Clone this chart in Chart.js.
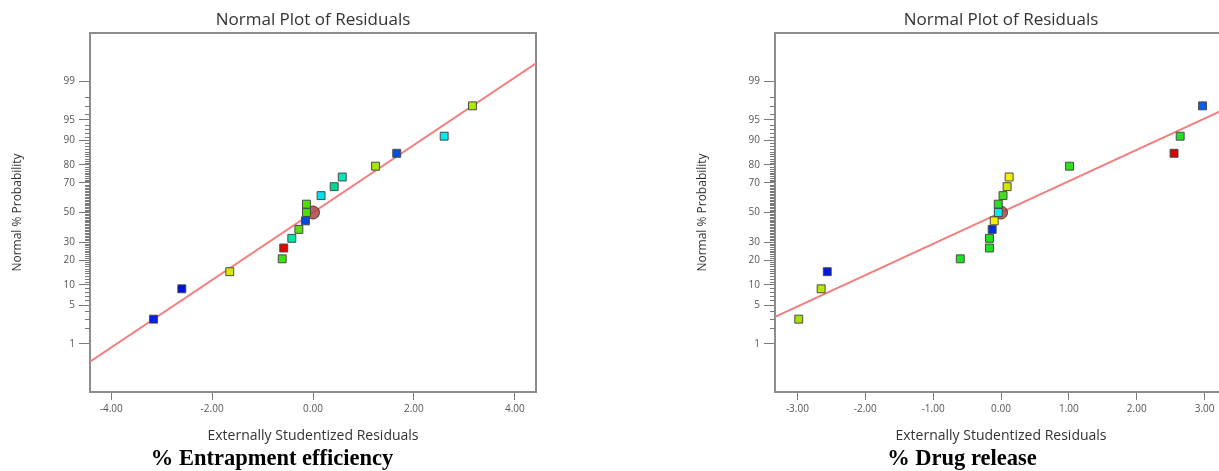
<!DOCTYPE html>
<html>
<head>
<meta charset="utf-8">
<title>Normal Plot of Residuals</title>
<script src="https://cdn.jsdelivr.net/npm/chart.js@4.4.1/dist/chart.umd.min.js"></script>
<style>
  html, body { margin: 0; padding: 0; background: #fff; overflow: hidden; }
  body { width: 1219px; height: 471px; position: relative; }
  .panel { position: absolute; top: 0; }
  .caption {
    position: absolute; top: 445px;
    font: bold 22.5px "Liberation Serif", "Times New Roman", serif;
    color: #000; transform: translateX(-50%); white-space: nowrap;
  }
</style>
</head>
<body>
<canvas id="entrap-chart" class="panel" width="560" height="450" style="left:0"></canvas>
<canvas id="release-chart" class="panel" width="566" height="450" style="left:685px"></canvas>
<div class="caption" style="left:272px">% Entrapment efficiency</div>
<div class="caption" style="left:962px">% Drug release</div>
<script>
// normal % probability of each ranked run (17 runs, same for both plots)
const normalProb = [2.94, 8.82, 14.71, 20.59, 26.47, 32.35, 38.24, 44.12, 50, 55.88, 61.76, 67.65, 73.53, 79.41, 85.29, 91.18, 97.06];

// % Entrapment efficiency
const entrapResiduals = [-3.16, -2.60, -1.65, -0.61, -0.58, -0.42, -0.28, -0.15, -0.13, -0.13, 0.16, 0.42, 0.58, 1.24, 1.66, 2.60, 3.16];
const entrapColors = ['#0020e8', '#0010e0', '#d4ea00', '#40e010', '#e80000', '#00e8a8', '#5ae000', '#0048e8', '#48e000',
                      '#50e000', '#00e0f0', '#00d890', '#00e8b8', '#a8e800', '#0050e8', '#00e8f0', '#b0e800'];
const entrapFitX = [-4.42, 4.42];
const entrapFitP = [0.41, 99.59];
const entrapXTicks = [-4, -2, 0, 2, 4];

// % Drug release
const releaseResiduals = [-2.98, -2.65, -2.56, -0.60, -0.17, -0.17, -0.13, -0.10, -0.04, -0.04, 0.03, 0.09, 0.12, 1.01, 2.55, 2.64, 2.97];
const releaseColors = ['#a8e000', '#b8e800', '#0018e0', '#20e020', '#20e020', '#20e020', '#0030e0', '#f0f000', '#00f0f0',
                       '#20e020', '#40e020', '#d0e800', '#f0f000', '#30e020', '#e00000', '#20e020', '#0060f0'];
const releaseFitX = [-3.33, 3.33];
const releaseFitP = [3.21, 96.79];
const releaseXTicks = [-3, -2, -1, 0, 1, 2, 3];

// probability axis
const probTicks = [1, 5, 10, 20, 30, 50, 70, 80, 90, 95, 99];
const probMin = 0.0736;
const probMax = 99.9264;

const minorProbTicks = [];
for (let p = 2; p < 99; p++) {
    if (!probTicks.includes(p)) minorProbTicks.push(p);
}

const FONT = '"Open Sans", "Noto Sans", sans-serif';

// inverse of the standard normal CDF (Acklam)
function probit(p) {
    const a = [-39.69683028665376, 220.9460984245205, -275.9285104469687, 138.357751867269, -30.66479806614716, 2.506628277459239];
    const b = [-54.47609879822406, 161.5858368580409, -155.6989798598866, 66.80131188771972, -13.28068155288572];
    const c = [-0.007784894002430293, -0.3223964580411365, -2.400758277161838, -2.549732539343734, 4.374664141464968, 2.938163982698783];
    const d = [0.007784695709041462, 0.3224671290700398, 2.445134137142996, 3.754408661907416];
    const lo = 0.02425;
    let q, r;
    if (p < lo) {
        q = Math.sqrt(-2 * Math.log(p));
        return (((((c[0] * q + c[1]) * q + c[2]) * q + c[3]) * q + c[4]) * q + c[5]) /
               ((((d[0] * q + d[1]) * q + d[2]) * q + d[3]) * q + 1);
    }
    if (p > 1 - lo) {
        q = Math.sqrt(-2 * Math.log(1 - p));
        return -(((((c[0] * q + c[1]) * q + c[2]) * q + c[3]) * q + c[4]) * q + c[5]) /
                ((((d[0] * q + d[1]) * q + d[2]) * q + d[3]) * q + 1);
    }
    q = p - 0.5;
    r = q * q;
    return (((((a[0] * r + a[1]) * r + a[2]) * r + a[3]) * r + a[4]) * r + a[5]) * q /
           (((((b[0] * r + b[1]) * r + b[2]) * r + b[3]) * r + b[4]) * r + 1);
}

function normCdf(z) {
    const t = 1 / (1 + 0.3275911 * Math.abs(z) / Math.SQRT2);
    const y = 1 - (((((1.061405429 * t - 1.453152027) * t) + 1.421413741) * t - 0.284496736) * t + 0.254829592) * t *
              Math.exp(-z * z / 2);
    return z >= 0 ? 0.5 * (1 + y) : 0.5 * (1 - y);
}

// normal probability axis: values in %, spaced by their normal quantile
class ProbitScale extends Chart.Scale {
    static id = 'probit';
    static defaults = {};

    determineDataLimits() {
        this.min = this.options.min;
        this.max = this.options.max;
    }
    buildTicks() {
        return probTicks.map(value => ({ value }));
    }
    getLabelForValue(value) {
        return String(value);
    }
    configure() {
        super.configure();
        this._zStart = probit(this.min / 100);
        this._zRange = probit(this.max / 100) - this._zStart;
    }
    getPixelForValue(value) {
        if (value === undefined) value = this.min;
        return this.getPixelForDecimal((probit(value / 100) - this._zStart) / this._zRange);
    }
    getValueForPixel(pixel) {
        return 100 * normCdf(this._zStart + this.getDecimalForPixel(pixel) * this._zRange);
    }
}
Chart.register(ProbitScale);

// plot frame and the short 1% ticks along the probability axis
const probFrame = {
    id: 'probFrame',
    beforeDatasetsDraw(chart) {
        const { ctx, chartArea: a, scales } = chart;
        ctx.save();
        ctx.strokeStyle = '#8c8c8c';
        ctx.lineWidth = 2;
        ctx.strokeRect(a.left, a.top, a.right - a.left, a.bottom - a.top);
        ctx.strokeStyle = '#7a7a7a';
        ctx.lineWidth = 1;
        ctx.beginPath();
        minorProbTicks.forEach(p => {
            const y = Math.round(scales.y.getPixelForValue(p)) + 0.5;
            ctx.moveTo(a.left - 5, y);
            ctx.lineTo(a.left, y);
        });
        ctx.stroke();
        ctx.restore();
    }
};

function makeChart(id, residuals, colors, fitX, fitP, xMin, xMax, xTicks) {
    return new Chart(document.getElementById(id), {
        type: 'scatter',
        data: {
            datasets: [
                {
                    // fitted normal line, drawn underneath
                    data: fitX.map((x, i) => ({ x, y: fitP[i] })),
                    order: 3,
                    showLine: true,
                    borderColor: '#f27f7f',
                    borderWidth: 2,
                    pointRadius: 0
                },
                {
                    data: [{ x: 0, y: 50 }],
                    order: 2,
                    pointStyle: 'circle',
                    pointRadius: 6.5,
                    backgroundColor: 'rgba(168, 72, 72, 0.85)',
                    borderColor: '#6a2c2c',
                    borderWidth: 1
                },
                {
                    data: residuals.map((x, i) => ({ x, y: normalProb[i] })),
                    order: 1,
                    pointStyle: 'rect',
                    pointRadius: 5.6,
                    backgroundColor: colors,
                    borderColor: '#4a4a4a',
                    borderWidth: 1
                }
            ]
        },
        options: {
            responsive: false,
            animation: false,
            events: [],
            layout: { padding: { right: 24 } },
            plugins: {
                legend: { display: false },
                tooltip: { enabled: false },
                title: {
                    display: true,
                    text: 'Normal Plot of Residuals',
                    fullSize: false,
                    color: '#333',
                    font: { family: FONT, size: 17, weight: 'normal' },
                    padding: { top: 10, bottom: 2.6 }
                }
            },
            scales: {
                x: {
                    type: 'linear',
                    min: xMin,
                    max: xMax,
                    afterBuildTicks: s => { s.ticks = xTicks.map(v => ({ value: v })); },
                    afterFit: s => { s.height = 58; },
                    grid: { drawOnChartArea: false, tickLength: 8, tickColor: '#7a7a7a' },
                    border: { display: false },
                    ticks: {
                        callback: v => v.toFixed(2),
                        autoSkip: false,
                        maxRotation: 0,
                        padding: 3,
                        color: '#555',
                        font: { family: FONT, size: 10 }
                    },
                    title: {
                        display: true,
                        text: 'Externally Studentized Residuals',
                        color: '#333',
                        font: { family: FONT, size: 14 },
                        padding: { top: 0, bottom: 5.6 }
                    }
                },
                y: {
                    type: 'probit',
                    min: probMin,
                    max: probMax,
                    afterFit: s => { s.width = 90; },
                    grid: { drawOnChartArea: false, tickLength: 11, tickColor: '#7a7a7a' },
                    border: { display: false },
                    ticks: {
                        autoSkip: false,
                        padding: 4,
                        color: '#555',
                        font: { family: FONT, size: 10 }
                    },
                    title: {
                        display: true,
                        text: 'Normal % Probability',
                        color: '#333',
                        font: { family: FONT, size: 12 },
                        padding: { top: 10.8, bottom: 0 }
                    }
                }
            }
        },
        plugins: [probFrame]
    });
}

makeChart('entrap-chart', entrapResiduals, entrapColors, entrapFitX, entrapFitP, -4.42, 4.42, entrapXTicks);
makeChart('release-chart', releaseResiduals, releaseColors, releaseFitX, releaseFitP, -3.33, 3.33, releaseXTicks);
</script>
</body>
</html>
